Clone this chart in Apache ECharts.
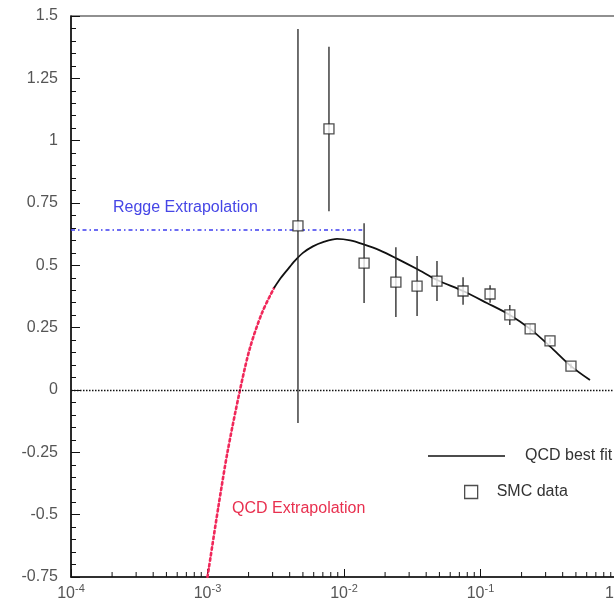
<!DOCTYPE html>
<html>
<head>
<meta charset="utf-8">
<script src="https://cdn.jsdelivr.net/npm/echarts@6/dist/echarts.min.js"></script>
<style>
html,body{margin:0;padding:0;background:#fff;}
#chart{width:614px;height:606px;}
</style>
</head>
<body>
<div id="chart"></div>
<script>
// ---- data ----
const smcX   = [0.0046, 0.00776, 0.01403, 0.0240, 0.0343, 0.0480, 0.0745, 0.1175, 0.164, 0.231, 0.323, 0.460];
const smcY   = [0.658, 1.047, 0.509, 0.433, 0.417, 0.437, 0.397, 0.385, 0.301, 0.245, 0.197, 0.096];
const smcErr = [0.79, 0.33, 0.16, 0.14, 0.12, 0.08, 0.055, 0.035, 0.04, 0.02, 0.012, 0.01];

const fitX = [0.00307, 0.00345, 0.00387, 0.00436, 0.00500, 0.00592, 0.00702, 0.00889, 0.0111, 0.01377, 0.0183, 0.0244, 0.0343, 0.0480, 0.0745, 0.1114, 0.164, 0.231, 0.323, 0.460, 0.634];
const fitY = [0.409, 0.450, 0.484, 0.518, 0.550, 0.576, 0.593, 0.606, 0.600, 0.585, 0.560, 0.527, 0.485, 0.441, 0.397, 0.349, 0.301, 0.245, 0.175, 0.096, 0.04];

const qcdExtX = [0.00100, 0.00120, 0.00140, 0.00173, 0.00205, 0.00251, 0.00307];
const qcdExtY = [-0.75, -0.47, -0.25, 0, 0.17, 0.31, 0.409];

const reggeX = [0.0001, 0.0136];
const reggeY = [0.642, 0.642];

const yTicks = [-0.75, -0.5, -0.25, 0, 0.25, 0.5, 0.75, 1, 1.25, 1.5];
const xDecades = [0.0001, 0.001, 0.01, 0.1, 1];
const xMinor = [];
for (let d = 0; d < xDecades.length - 1; d++) {
  for (let m = 2; m <= 9; m++) xMinor.push(xDecades[d] * m);
}

const Y_MIN = yTicks[0], Y_MAX = yTicks[yTicks.length - 1];
const pairs = (xs, ys) => xs.map((x, i) => [x, ys[i]]);

const chart = echarts.init(document.getElementById('chart'), null, {renderer: 'canvas'});
chart.setOption({
  animation: false,
  backgroundColor: '#fff',
  grid: {left: 71, top: 16, width: 546, height: 561, show: true, borderColor: '#222', borderWidth: 1.2, backgroundColor: 'transparent', outerBoundsMode: 'none', containLabel: false},
  xAxis: {
    type: 'log', logBase: 10, min: xDecades[0], max: xDecades[xDecades.length - 1],
    axisLine: {show: true, onZero: false, lineStyle: {color: '#111', width: 1.5}},
    axisTick: {show: true, inside: true, length: 8, lineStyle: {color: '#111'}},
    splitLine: {show: false},
    axisLabel: {
      margin: 6,
      formatter: v => '{b|10}{s|' + Math.round(Math.log10(v)) + '}',
      rich: {
        b: {fontSize: 16, lineHeight: 16, padding: [6, 0, 0, 0], color: '#555', fontFamily: 'Liberation Sans'},
        s: {fontSize: 11, lineHeight: 11, verticalAlign: 'top', color: '#555', fontFamily: 'Liberation Sans'}
      }
    }
  },
  yAxis: {
    type: 'value', min: Y_MIN, max: Y_MAX, interval: 0.25,
    axisLine: {show: true, onZero: false, lineStyle: {color: '#111', width: 1.5}},
    axisTick: {show: true, inside: true, length: 9, lineStyle: {color: '#111'}},
    minorTick: {show: true, splitNumber: 5, length: 5, lineStyle: {color: '#111'}},
    splitLine: {show: false},
    axisLabel: {margin: 13, fontSize: 16, color: '#555', fontFamily: 'Liberation Sans'}
  },
  legend: [
    {
      data: [{name: 'QCD best fit', icon: 'rect'}],
      left: 423, top: 443, itemWidth: 77, itemHeight: 1.5, selectedMode: false,
      textStyle: {fontSize: 16, color: '#333', fontFamily: 'Liberation Sans', padding: [0, 0, 0, 15]}
    },
    {
      data: [{name: 'SMC data', icon: 'rect'}],
      left: 459, top: 479, itemWidth: 13, itemHeight: 13, selectedMode: false,
      itemStyle: {color: '#fff', borderColor: '#222', borderWidth: 1.3},
      textStyle: {fontSize: 16, color: '#333', fontFamily: 'Liberation Sans', padding: [0, 0, 0, 14]}
    }
  ],
  graphic: [
    {type: 'text', left: 113, top: 200, style: {text: 'Regge Extrapolation', fill: '#4646e6', font: '16px "Liberation Sans"'}},
    {type: 'text', left: 232, top: 501, style: {text: 'QCD Extrapolation', fill: '#e8304f', font: '16px "Liberation Sans"'}}
  ],
  series: [
    {
      type: 'custom', name: 'xMinorTicks', silent: true, clip: false, z: 3,
      data: xMinor.map(v => [v, Y_MIN]),
      renderItem: (params, api) => {
        const p = api.coord([api.value(0), api.value(1)]);
        return {type: 'line', shape: {x1: p[0], y1: p[1], x2: p[0], y2: p[1] - 5}, style: {stroke: '#111', lineWidth: 1}};
      }
    },
    {
      type: 'line', name: 'Regge', data: pairs(reggeX, reggeY), showSymbol: false, silent: true,
      lineStyle: {color: '#3c3cf0', width: 1.5, type: [4, 3, 1.5, 3]}, z: 2
    },
    {
      type: 'line', name: 'QCD Extrapolation', data: pairs(qcdExtX, qcdExtY), showSymbol: false, smooth: 0.3, silent: true,
      lineStyle: {color: '#f0285a', width: 2.6, type: [2.5, 3], cap: 'round'}, z: 2
    },
    {
      type: 'line', name: 'QCD best fit', data: pairs(fitX, fitY), showSymbol: false, smooth: 0.3,
      itemStyle: {color: '#111'},
      lineStyle: {color: '#111', width: 1.8}, z: 3,
      markLine: {
        silent: true, symbol: 'none', label: {show: false},
        lineStyle: {color: '#111', type: [1.5, 1.5], width: 1.3},
        data: [{yAxis: 0}]
      }
    },
    {
      type: 'custom', name: 'SMC errors', silent: true, z: 4,
      data: smcX.map((x, i) => [x, smcY[i] - smcErr[i], smcY[i] + smcErr[i]]),
      encode: {x: 0, y: [1, 2]},
      renderItem: (params, api) => {
        const lo = api.coord([api.value(0), api.value(1)]);
        const hi = api.coord([api.value(0), api.value(2)]);
        return {type: 'line', shape: {x1: lo[0], y1: lo[1], x2: hi[0], y2: hi[1]}, style: {stroke: '#222', lineWidth: 1.3}};
      }
    },
    {
      type: 'scatter', name: 'SMC data', data: pairs(smcX, smcY), symbol: 'rect', symbolSize: 10, z: 5,
      itemStyle: {color: '#fff', borderColor: '#222', borderWidth: 1.3}
    }
  ]
});
</script>
</body>
</html>
